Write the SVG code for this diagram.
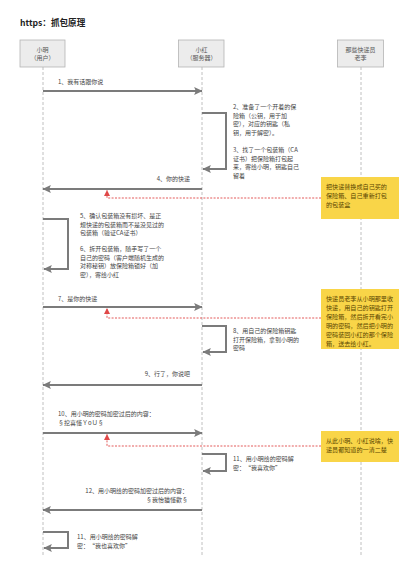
<svg xmlns="http://www.w3.org/2000/svg" width="417" height="565" viewBox="0 0 417 565">
<style>
text{font-family:"Noto Sans CJK SC","Noto Sans",sans-serif;font-size:6px;fill:#444}
.title{font-size:8.6px;font-weight:bold;fill:#222}
.pbox{fill:#ececec;stroke:#b5b5b5;stroke-width:0.8}
.pt{fill:#555;text-anchor:middle}
.life{stroke:#b0b0b0;stroke-width:0.8;stroke-dasharray:3,2;fill:none}
.msg{stroke:#7b7b7b;stroke-width:2;fill:none}
.red{stroke:#e04848;stroke-width:0.9;stroke-dasharray:2,1.4;fill:none}
.note{fill:#f9d548}
.nt{fill:#5a4600;font-size:6.1px}
.r{text-anchor:end}
</style>
<defs>
<marker id="ah" markerUnits="userSpaceOnUse" markerWidth="9" markerHeight="9" viewBox="0 0 8 8" refX="7" refY="4" orient="auto">
<path d="M0,0.5 L7.5,4 L0,7.5 L1.5,4 Z" fill="#7b7b7b"/>
</marker>
<marker id="rh" markerUnits="userSpaceOnUse" markerWidth="6" markerHeight="6" viewBox="0 0 6 6" refX="5.5" refY="3" orient="auto">
<path d="M0,0 L6,3 L0,6 Z" fill="#e04848"/>
</marker>
</defs>
<rect width="417" height="565" fill="#fff"/>
<text class="title" x="20" y="26">https：抓包原理</text>

<g id="lifelines">
<path class="life" d="M43,67 V557"/>
<path class="life" d="M202,67 V557"/>
<path class="life" d="M361,67 V557"/>
</g>

<g id="p-xiaoming">
<rect class="pbox" x="20" y="40" width="45" height="27"/>
<text class="pt" x="42.5" y="52">小明</text>
<text class="pt" x="42.5" y="60">（用户）</text>
</g>
<g id="p-xiaohong">
<rect class="pbox" x="178.5" y="40" width="45.5" height="27"/>
<text class="pt" x="201.5" y="52">小红</text>
<text class="pt" x="201.5" y="60">（服务器）</text>
</g>
<g id="p-laoli">
<rect class="pbox" x="337.5" y="40" width="46" height="27"/>
<text class="pt" x="360.5" y="52">那些快递员</text>
<text class="pt" x="360.5" y="60">老李</text>
</g>

<g id="connectors">
<path class="msg" marker-end="url(#ah)" d="M43,91 H202"/>
<path class="msg" marker-end="url(#ah)" d="M202,113 H226 V169 H203"/>
<path class="msg" marker-end="url(#ah)" d="M202,189 H43"/>
<path class="msg" marker-end="url(#ah)" d="M43,219 H68 V269 H44"/>
<path class="msg" marker-end="url(#ah)" d="M43,307 H202"/>
<path class="msg" marker-end="url(#ah)" d="M202,326 H226 V352 H203"/>
<path class="msg" marker-end="url(#ah)" d="M202,385 H43"/>
<path class="msg" marker-end="url(#ah)" d="M43,433 H202"/>
<path class="msg" marker-end="url(#ah)" d="M202,454 H226 V471 H203"/>
<path class="msg" marker-end="url(#ah)" d="M202,510 H43"/>
<path class="msg" marker-end="url(#ah)" d="M43,532 H68 V548 H44"/>
<path class="red" marker-end="url(#rh)" d="M321,198 H107 V190.5"/>
<path class="red" marker-end="url(#rh)" d="M321,318 H107 V308.5"/>
<path class="red" marker-end="url(#rh)" d="M321,446 H107 V434.5"/>
</g>

<g id="labels">
<text x="58" y="84">1、我有话跟你说</text>
<text x="233" y="109">2、准备了一个开着的保</text>
<text x="233" y="117.5">险箱（公钥，用于加</text>
<text x="233" y="126">密），对应的钥匙（私</text>
<text x="233" y="134.5">钥，用于解密）。</text>
<text x="233" y="152">3、找了一个包装箱（CA</text>
<text x="233" y="160.5">证书）把保险箱打包起</text>
<text x="233" y="169">来，寄给小明，钥匙自己</text>
<text x="233" y="177.5">留着</text>
<text class="r" x="190" y="181">4、你的快递</text>
<text x="80" y="218">5、确认包装箱没有损坏、是正</text>
<text x="80" y="226.5">规快递的包装箱而不是没见过的</text>
<text x="80" y="235">包装箱（验证CA证书）</text>
<text x="80" y="251">6、拆开包装箱，随手写了一个</text>
<text x="80" y="259.5">自己的密码（客户端随机生成的</text>
<text x="80" y="268">对称秘钥）放保险箱锁好（加</text>
<text x="80" y="276.5">密），寄给小红</text>
<text x="58" y="301">7、是你的快递</text>
<text x="233" y="333">8、用自己的保险箱钥匙</text>
<text x="233" y="341.5">打开保险箱，拿到小明的</text>
<text x="233" y="350">密码</text>
<text class="r" x="190" y="376">9、行了，你说吧</text>
<text x="58" y="416">10、用小明的密码加密过后的内容：</text>
<text x="58" y="425">§挖喜懂ＹoＵ§</text>
<text x="233" y="461">11、用小明给的密码解</text>
<text x="233" y="469.5">密：“我喜欢你”</text>
<text class="r" x="188" y="493">12、用小明给的密码加密过后的内容：</text>
<text class="r" x="188" y="502">§我怡猫懂歡§</text>
<text x="77" y="539">11、用小明给的密码解</text>
<text x="77" y="547.5">密：“我也喜欢你”</text>
</g>

<g id="note1">
<rect class="note" x="321" y="177" width="78" height="42"/>
<text class="nt" x="326" y="189">把快递替换成自己买的</text>
<text class="nt" x="326" y="198">保险箱、自己重新打包</text>
<text class="nt" x="326" y="207">的包装盒</text>
</g>
<g id="note2">
<rect class="note" x="321" y="289" width="78" height="60"/>
<text class="nt" x="326" y="301">快递员老李从小明那里收</text>
<text class="nt" x="326" y="310">快递，用自己的钥匙打开</text>
<text class="nt" x="326" y="319">保险箱，然后拆开看完小</text>
<text class="nt" x="326" y="328">明的密码，然后把小明的</text>
<text class="nt" x="326" y="337">密码装回小红的那个保险</text>
<text class="nt" x="326" y="346">箱，送去给小红。</text>
</g>
<g id="note3">
<rect class="note" x="321" y="431" width="78" height="31"/>
<text class="nt" x="326" y="443">从此小明、小红说啥，快</text>
<text class="nt" x="326" y="452">递员都知道的一清二楚</text>
</g>
</svg>
